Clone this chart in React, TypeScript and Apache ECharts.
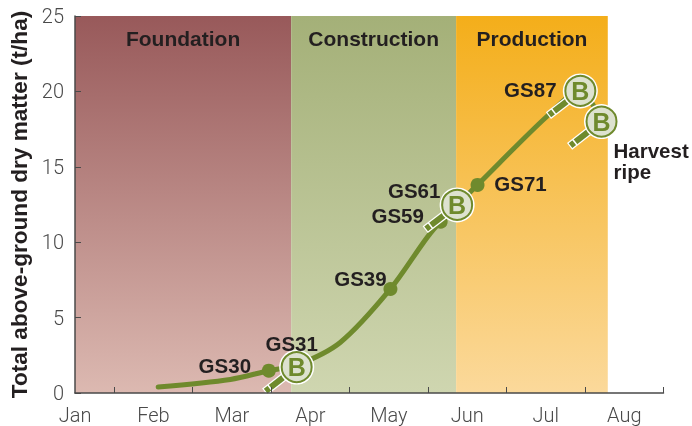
import React, { useEffect, useRef } from "react";
import * as echarts from "echarts";

const monthLabels = ["Jan", "Feb", "Mar", "Apr", "May", "Jun", "Jul", "Aug"];
const monthPositions = [0, 1, 2, 3, 4, 5, 6, 7];
const tickPositions = [0.5, 1.5, 2.5, 3.5, 4.5, 5.5, 6.5, 7.5];
const yTicks = [0, 5, 10, 15, 20, 25];

const curveMonths = [1.06, 1.98, 2.47, 2.83, 3.38, 4.02, 4.53, 4.87, 5.13, 6.01, 6.44, 6.71];
const curveMatter = [0.4, 0.9, 1.48, 1.85, 3.35, 6.9, 10.6, 12.47, 13.8, 18.32, 20.03, 18.0];

const dotStages = ["GS30", "GS39", "GS59", "GS71"];
const dotMonths = [2.47, 4.02, 4.66, 5.13];
const dotMatter = [1.48, 6.9, 11.36, 13.8];

const lensMonths = [2.825, 4.87, 6.44, 6.71];
const lensMatter = [1.72, 12.47, 20.03, 18.0];
const lensStages = ["GS31", "GS61", "GS87", "Harvest\nripe"];

const phases = ["Foundation", "Construction", "Production"];
const phaseStart = [0, 2.755, 4.857];
const phaseEnd = [2.755, 4.857, 6.79];
const phaseTop = ["#98595a", "#a4b078", "#f4ae1a"];
const phaseBottom = ["#dcb9b1", "#cfd6b0", "#fbd99b"];

const labelOffsets: Record<string, [number, number]> = {
  GS30: [-44, -5],
  GS39: [-30, -10],
  GS59: [-43, -6],
  GS71: [43, -1],
  GS31: [-5, -24],
  GS61: [-43, -14],
  GS87: [-50, -1],
};

const GREEN = "#6f8a2d";
const INK = "#231f20";
const AXIS = "#4a4a4a";
const BOLD = "Liberation Sans";

export default function App() {
  const ref = useRef<HTMLDivElement>(null);
  useEffect(() => {
    const chart = echarts.init(ref.current!, undefined, { renderer: "svg" });
    const stageLabel = (name: string) => {
      if (name.startsWith("Harvest")) {
        return {
          show: true,
          formatter: name,
          position: "inside" as const,
          align: "left" as const,
          verticalAlign: "top" as const,
          offset: [12, 18],
          fontFamily: BOLD,
          fontWeight: "bold" as const,
          fontSize: 20.5,
          lineHeight: 21,
          color: INK,
        };
      }
      return {
        show: true,
        formatter: name,
        position: "inside" as const,
        offset: labelOffsets[name],
        fontFamily: BOLD,
        fontWeight: "bold" as const,
        fontSize: 20.5,
        color: INK,
      };
    };
    chart.setOption({
      animation: false,
      grid: { left: 75, right: 28.5, top: 16, bottom: 33, outerBoundsMode: "none" },
      xAxis: {
        type: "value",
        z: 6,
        min: 0,
        max: 7.5,
        interval: 1,
        splitLine: { show: false },
        axisLine: { show: true, onZero: false, lineStyle: { color: AXIS, width: 1.5 } },
        axisTick: { show: true, inside: true, length: 6, customValues: tickPositions, lineStyle: { color: AXIS, width: 1 } },
        axisLabel: {
          customValues: monthPositions,
          formatter: (v: number) => monthLabels[Math.round(v)] ?? "",
          fontFamily: "Roboto",
          fontWeight: 300,
          fontSize: 20,
          color: AXIS,
          margin: 12,
          hideOverlap: false,
          showMinLabel: true,
          showMaxLabel: true,
        },
      },
      yAxis: {
        type: "value",
        z: 6,
        min: 0,
        max: 25,
        interval: 5,
        name: "Total above-ground dry matter (t/ha)",
        nameLocation: "middle",
        nameGap: 44,
        nameRotate: 90,
        nameTextStyle: { fontFamily: BOLD, fontWeight: "bold", fontSize: 22.6, color: INK },
        splitLine: { show: false },
        axisLine: { show: true, lineStyle: { color: AXIS, width: 1.5 } },
        axisTick: { show: true, inside: true, length: 6, lineStyle: { color: AXIS, width: 1 } },
        axisLabel: {
          formatter: (v: number) => (yTicks.includes(v) ? String(v) : ""),
          fontFamily: "Roboto",
          fontWeight: 300,
          fontSize: 20,
          color: AXIS,
          margin: 11,
        },
      },
      series: [
        {
          type: "line",
          z: 2,
          smooth: 0.3,
          showSymbol: false,
          data: curveMonths.map((m, i) => [m, curveMatter[i]]),
          lineStyle: { color: GREEN, width: 5, cap: "round" },
          markArea: {
            silent: true,
            z: 1,
            data: phases.map((name, i) => [
              {
                name,
                xAxis: phaseStart[i],
                yAxis: 25,
                itemStyle: {
                  color: new echarts.graphic.LinearGradient(0, 0, 0, 1, [
                    { offset: 0, color: phaseTop[i] },
                    { offset: 1, color: phaseBottom[i] },
                  ]),
                  opacity: 1,
                },
                label: {
                  show: true,
                  position: "insideTop",
                  distance: 12,
                  fontFamily: BOLD,
                  fontWeight: "bold",
                  fontSize: 21,
                  color: INK,
                },
              },
              { xAxis: phaseEnd[i], yAxis: 0 },
            ]),
          },
        },
        {
          type: "scatter",
          z: 3,
          symbolSize: 14,
          itemStyle: { color: GREEN, opacity: 1 },
          data: dotStages.map((name, i) => ({
            value: [dotMonths[i], dotMatter[i]],
            label: stageLabel(name),
          })),
        },
        {
          type: "custom",
          z: 4,
          clip: false,
          encode: { x: 0, y: 1 },
          data: lensMonths.map((m, i) => [m, lensMatter[i]]),
          renderItem: (_p: any, api: any) => {
            const [cx, cy] = api.coord([api.value(0), api.value(1)]);
            const ex = -31;
            const ey = 24;
            const seg = (a: number, b: number, stroke: string, lineWidth: number) => ({
              type: "line",
              shape: { x1: cx + ex * a, y1: cy + ey * a, x2: cx + ex * b, y2: cy + ey * b },
              style: { stroke, lineWidth },
            });
            return {
              type: "group",
              children: [
                seg(0.4, 1.03, "#ffffff", 8.5),
                seg(0.4, 1, GREEN, 6),
                seg(0.84, 0.88, "#ffffff", 7),
                { type: "circle", shape: { cx, cy, r: 17.5 }, style: { fill: "#ffffff" } },
                { type: "circle", shape: { cx, cy, r: 15 }, style: { fill: "#dde2cf", stroke: GREEN, lineWidth: 2 } },
                {
                  type: "text",
                  x: cx,
                  y: cy,
                  style: {
                    text: "B",
                    x: 0,
                    y: 0,
                    align: "center",
                    verticalAlign: "middle",
                    fill: GREEN,
                    fontFamily: BOLD,
                    fontWeight: "bold",
                    fontSize: 25,
                  },
                },
              ],
            };
          },
        },
        {
          type: "scatter",
          z: 5,
          symbolSize: 1,
          itemStyle: { color: "transparent", opacity: 1 },
          data: lensStages.map((name, i) => ({
            value: [lensMonths[i], lensMatter[i]],
            label: stageLabel(name),
          })),
        },
      ],
    });
    return () => chart.dispose();
  }, []);
  return <div ref={ref} style={{ position: "fixed", left: 0, top: 0, width: 692, height: 426 }} />;
}
